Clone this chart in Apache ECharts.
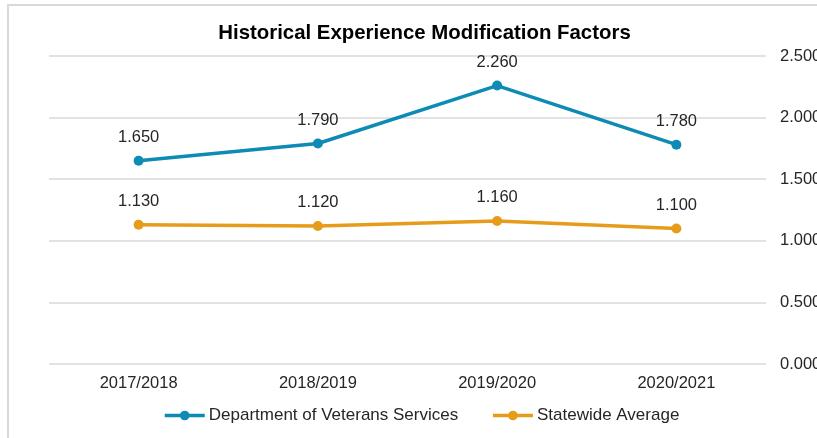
<!DOCTYPE html>
<html>
<head>
<meta charset="utf-8">
<script src="https://cdn.jsdelivr.net/npm/echarts@6/dist/echarts.min.js"></script>
<style>
  html, body { margin: 0; padding: 0; background: #fff; overflow: hidden; }
  #chart { width: 817px; height: 438px; }
</style>
</head>
<body>
<div id="chart"></div>
<script>
// fiscal years
var years = ["2017/2018", "2018/2019", "2019/2020", "2020/2021"];
// experience modification factors
var veteransServices = [1.65, 1.79, 2.26, 1.78];
var statewideAverage = [1.13, 1.12, 1.16, 1.10];
var yTicks = [0, 0.5, 1, 1.5, 2, 2.5];

var blue = "#0d8bb4";
var orange = "#e69c1a";
var fontFamily = "'Liberation Sans', Arial, sans-serif";
var textSize = 16.5;

function lineSeries(name, values, color) {
    return {
        name: name,
        type: "line",
        data: values,
        symbol: "circle",
        symbolSize: 10,
        lineStyle: { width: 3.5, color: color },
        itemStyle: { color: color },
        label: {
            show: true,
            position: "top",
            distance: 10,
            fontSize: textSize,
            color: "#262626",
            fontFamily: fontFamily,
            formatter: function (p) { return p.value.toFixed(3); }
        }
    };
}

var myChart = echarts.init(document.getElementById("chart"));
myChart.setOption({
    animation: false,
    title: {
        text: "Historical Experience Modification Factors",
        left: 419.5,
        textAlign: "center",
        top: 18,
        textStyle: { fontSize: 20.4, fontWeight: "bold", color: "#000", fontFamily: fontFamily }
    },
    graphic: [{
        type: "rect",
        shape: { x: 8, y: 5, width: 900, height: 500 },
        style: { fill: "none", stroke: "#d9d9d9", lineWidth: 2 },
        silent: true
    }],
    legend: {
        top: 407,
        left: 163,
        padding: 0,
        itemWidth: 40,
        itemHeight: 12,
        itemGap: 33,
        lineStyle: { width: 3.5 },
        textStyle: { fontSize: 17, color: "#262626", fontFamily: fontFamily, padding: [0, 0, 0, -1] },
        data: ["Department of Veterans Services", "Statewide Average"]
    },
    grid: { left: 49, right: 51, top: 56, bottom: 74, containLabel: false, outerBoundsMode: "none" },
    xAxis: {
        type: "category",
        data: years,
        boundaryGap: true,
        axisLine: { show: false },
        axisTick: { show: false },
        axisLabel: { margin: 11, fontSize: textSize, color: "#262626", fontFamily: fontFamily }
    },
    yAxis: {
        type: "value",
        position: "right",
        min: yTicks[0],
        max: yTicks[yTicks.length - 1],
        interval: 0.5,
        axisLine: { show: false },
        axisTick: { show: false },
        splitLine: { lineStyle: { color: "#d9d9d9", width: 1.5 } },
        axisLabel: {
            margin: 14,
            fontSize: textSize,
            color: "#262626",
            fontFamily: fontFamily,
            formatter: function (v) { return v.toFixed(3); }
        }
    },
    series: [
        lineSeries("Department of Veterans Services", veteransServices, blue),
        lineSeries("Statewide Average", statewideAverage, orange)
    ]
});
window.addEventListener("resize", function () { myChart.resize(); });
</script>
</body>
</html>
